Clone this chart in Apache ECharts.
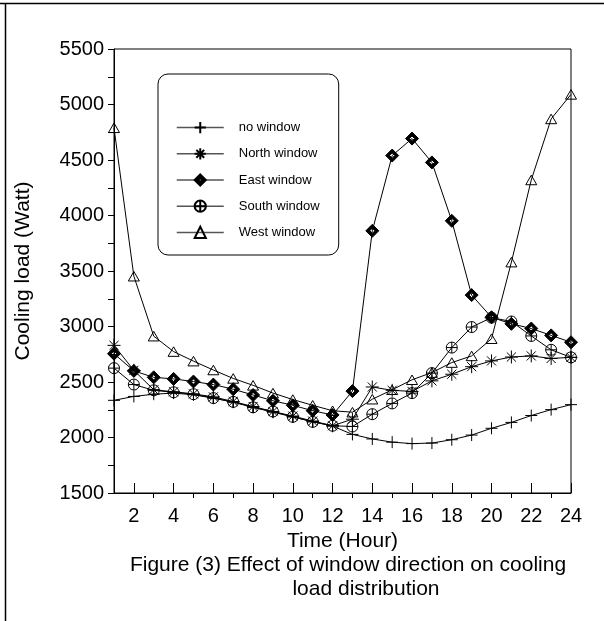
<!DOCTYPE html>
<html>
<head>
<meta charset="utf-8">
<title>Cooling load</title>
<script src="https://cdn.jsdelivr.net/npm/echarts@6/dist/echarts.min.js"></script>
<style>
    html, body { margin: 0; padding: 0; background: #fff; }
    #chart_content { width: 604px; height: 621px; }
</style>
</head>
<body>
<div id="chart_content"></div>
<script>
// hours of the day
var hours = [1, 2, 3, 4, 5, 6, 7, 8, 9, 10, 11, 12, 13, 14, 15, 16, 17, 18, 19, 20, 21, 22, 23, 24];
var x_label_hours = [2, 4, 6, 8, 10, 12, 14, 16, 18, 20, 22, 24];
var x_minor_hours = [3, 5, 7, 9, 11, 13, 15, 17, 19, 21, 23];

// cooling load (Watt)
var no_window    = [2335, 2370, 2390, 2400, 2385, 2355, 2318, 2272, 2228, 2186, 2143, 2103, 2028, 1987, 1958, 1945, 1950, 1980, 2022, 2083, 2136, 2198, 2251, 2296];
var north_window = [2830, 2605, 2430, 2412, 2393, 2366, 2324, 2279, 2234, 2193, 2148, 2106, 2165, 2455, 2425, 2415, 2510, 2570, 2638, 2690, 2725, 2735, 2712, 2722];
var east_window  = [2755, 2600, 2542, 2528, 2504, 2477, 2435, 2383, 2331, 2290, 2241, 2203, 2418, 3862, 4540, 4693, 4478, 3952, 3283, 3083, 3024, 2982, 2920, 2858];
var south_window = [2625, 2477, 2425, 2407, 2390, 2355, 2321, 2272, 2234, 2186, 2141, 2106, 2099, 2210, 2307, 2400, 2580, 2810, 2995, 3080, 3045, 2915, 2790, 2722];
var west_window  = [4790, 3453, 2913, 2774, 2688, 2608, 2532, 2470, 2400, 2342, 2290, 2241, 2228, 2345, 2430, 2520, 2585, 2675, 2735, 2890, 3580, 4320, 4870, 5091];

var font = "'Liberation Sans', Arial, sans-serif";

// marker shapes
var sym_plus = 'path://M6,0L6,12M0,6L12,6';
var sym_star = 'path://M6,0L6,12M0,6L12,6M1.8,1.8L10.2,10.2M10.2,1.8L1.8,10.2';
var sym_diamond = 'path://M6,0L12,6L6,12L0,6Z M6,3.6L3.6,6L6,8.4L8.4,6Z';
var sym_circle = 'path://M0,6A6,6 0 1,1 12,6A6,6 0 1,1 0,6Z M6,0L6,12M0,6L12,6';
var sym_triangle = 'path://M6,0L12,10.4L0,10.4Z';

function pairs(values){
    var out = [];
    for(var i = 0; i < hours.length; i++){
        out.push([hours[i], values[i]]);
    }
    return out;
}

function make_series(name, values, symbol, size, fill){
    return {
        name: name,
        type: 'line',
        data: pairs(values),
        symbol: symbol,
        symbolSize: size,
        symbolKeepAspect: true,
        showAllSymbol: true,
        lineStyle: { color: '#000', width: 1 },
        itemStyle: { color: fill, borderColor: '#000', borderWidth: 1 },
        emphasis: { disabled: true }
    };
}

var chart = echarts.init(document.getElementById('chart_content'));
var option = {
    animation: false,
    backgroundColor: '#fff',
    textStyle: { fontFamily: font, color: '#000' },
    grid: {
        left: 114,
        right: 33,
        top: 49,
        bottom: 128,
        show: true,
        borderColor: '#000',
        borderWidth: 1
    },
    legend: {
        orient: 'vertical',
        left: 158,
        top: 74,
        itemWidth: 47,
        itemHeight: 14,
        itemGap: 13,
        padding: [47, 19, 16, 18],
        borderColor: '#000',
        borderWidth: 1,
        borderRadius: 10,
        lineStyle: { color: '#555', width: 1.5 },
        textStyle: { fontFamily: font, fontSize: 13, color: '#000', padding: [0, 0, 0, 10] },
        data: ['no window', 'North window', 'East window', 'South window', 'West window']
    },
    xAxis: [{
        type: 'value',
        min: 1,
        max: 24,
        interval: 1,
        name: 'Time (Hour)',
        nameLocation: 'middle',
        nameGap: 38,
        nameTextStyle: { fontFamily: font, fontSize: 21, color: '#000' },
        axisLine: { lineStyle: { color: '#000', width: 1 } },
        axisTick: { inside: true, length: 10, customValues: x_label_hours, lineStyle: { color: '#000' } },
        axisLabel: { customValues: x_label_hours, margin: 13, fontFamily: font, fontSize: 20, color: '#000' },
        splitLine: { show: false }
    }, {
        type: 'value',
        min: 1,
        max: 24,
        interval: 1,
        position: 'bottom',
        axisLine: { show: false },
        axisTick: { inside: false, length: 5, customValues: x_minor_hours, lineStyle: { color: '#000' } },
        axisLabel: { show: false },
        splitLine: { show: false }
    }],
    yAxis: {
        type: 'value',
        min: 1500,
        max: 5500,
        interval: 250,
        name: 'Cooling load (Watt)',
        nameLocation: 'middle',
        nameGap: 80,
        nameTextStyle: { fontFamily: font, fontSize: 21, color: '#000' },
        axisLine: { show: true, lineStyle: { color: '#000', width: 1 } },
        axisTick: { show: true, inside: false, length: 6, lineStyle: { color: '#000' } },
        axisLabel: {
            margin: 10,
            fontFamily: font,
            fontSize: 20,
            color: '#000',
            formatter: function(v){ return v % 500 === 0 ? String(v) : ''; }
        },
        splitLine: { show: false }
    },
    graphic: [
        { type: 'line', shape: { x1: 0, y1: 3.5, x2: 604, y2: 3.5 }, style: { stroke: '#000', lineWidth: 1.5 } },
        { type: 'line', shape: { x1: 5.5, y1: 3.5, x2: 5.5, y2: 621 }, style: { stroke: '#000', lineWidth: 1.5 } },
        { type: 'text', x: 348, y: 565, style: { text: 'Figure (3) Effect of window direction on cooling', fontFamily: font, fontSize: 21, fill: '#000', textAlign: 'center', textVerticalAlign: 'middle' } },
        { type: 'text', x: 366, y: 589, style: { text: 'load distribution', fontFamily: font, fontSize: 21, fill: '#000', textAlign: 'center', textVerticalAlign: 'middle' } }
    ],
    series: [
        make_series('no window', no_window, sym_plus, 12, 'rgba(0,0,0,0)'),
        make_series('North window', north_window, sym_star, 13, 'rgba(0,0,0,0)'),
        make_series('East window', east_window, sym_diamond, 13, '#000'),
        make_series('South window', south_window, sym_circle, 11, 'rgba(0,0,0,0)'),
        make_series('West window', west_window, sym_triangle, 11, 'rgba(0,0,0,0)')
    ]
};
chart.setOption(option, true);
</script>
</body>
</html>
